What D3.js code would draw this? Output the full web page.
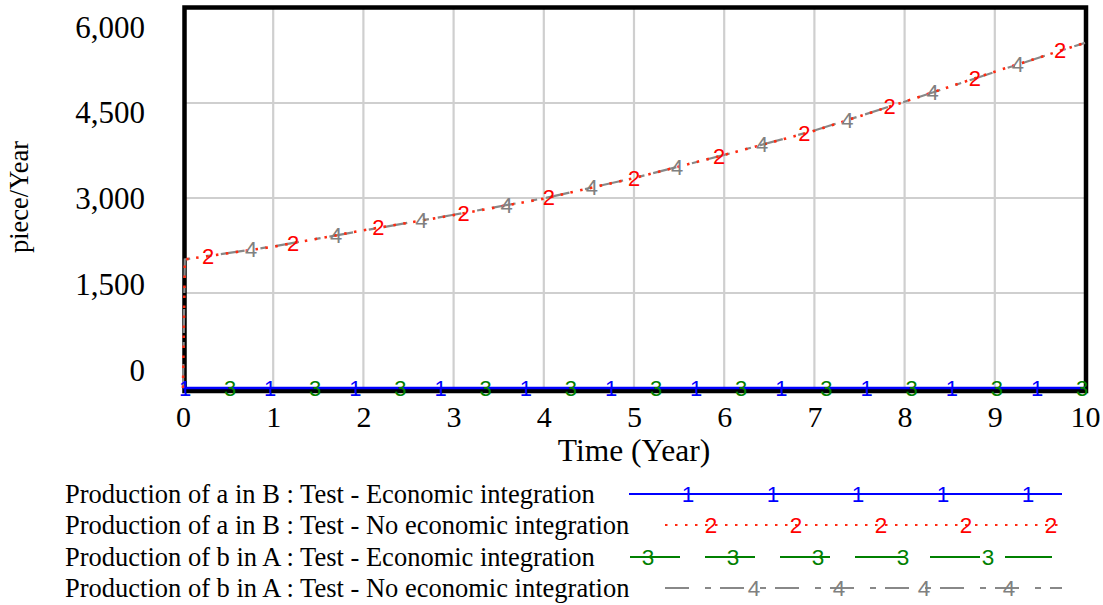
<!DOCTYPE html>
<html>
<head>
<meta charset="utf-8">
<script src="https://cdn.jsdelivr.net/npm/d3@7/dist/d3.min.js"></script>
<style>
  html, body { margin: 0; padding: 0; background: #ffffff; }
  svg { display: block; }
</style>
</head>
<body>
<svg id="chart" width="1103" height="605"></svg>
<script>
// ---- data ----
const times = [0, 0.02, 1, 2, 3, 4, 5, 6, 7, 8, 9, 10];
const aInB_integration   = [0, 0, 0, 0, 0, 0, 0, 0, 0, 0, 0, 0];
const aInB_noIntegration = [0, 2030, 2230, 2490, 2730, 2990, 3315, 3680, 4060, 4520, 4995, 5450];
const bInA_integration   = [0, 0, 0, 0, 0, 0, 0, 0, 0, 0, 0, 0];
const bInA_noIntegration = [0, 2030, 2235, 2485, 2735, 2995, 3315, 3680, 4065, 4520, 4990, 5450];
const seriesNames = [
  "Production of a in B : Test - Economic integration",
  "Production of a in B : Test - No economic integration",
  "Production of b in A : Test - Economic integration",
  "Production of b in A : Test - No economic integration"
];
const seriesMarkers = ["1", "2", "3", "4"];
const xTicks = [0, 1, 2, 3, 4, 5, 6, 7, 8, 9, 10];
const yTicks = [0, 1500, 3000, 4500, 6000];
const xTitle = "Time (Year)";
const yTitle = "piece/Year";

// ---- styles ----
const styles = [
  { color: "#0000ff", text: "#0000ff", width: 2.6, dash: null,          offset: 2 },
  { color: "#ff2a10", text: "#ff0000", width: 2.6, dash: "2.5,7.5",     offset: 25 },
  { color: "#008000", text: "#008000", width: 2.2, dash: "50,25",       offset: 47 },
  { color: "#888888", text: "#808080", width: 2.2, dash: "24,16,6,9",   offset: 68 }
];
const seriesData = [aInB_integration, aInB_noIntegration, bInA_integration, bInA_noIntegration];
const drawOrder = [2, 0, 3, 1];

const svg = d3.select("#chart");
const serif = "'Liberation Serif', 'Times New Roman', serif";
const sans = "'Liberation Sans', Arial, sans-serif";

const x = d3.scaleLinear().domain([0, 10]).range([183, 1085]);
const y = d3.scaleLinear().domain([0, 6000]).range([388, 8]);
const yLabel = d3.scaleLinear().domain([0, 6000]).range([380, 37]);

// grid
const grid = svg.append("g");
grid.selectAll("line.v").data(xTicks.filter(t => t > 0 && t < 10)).join("line")
  .attr("x1", d => x(d)).attr("x2", d => x(d)).attr("y1", 8).attr("y2", 391)
  .attr("stroke", "#cfcfcf").attr("stroke-width", 2.2);
grid.selectAll("line.h").data(yTicks.filter(t => t > 0 && t < 6000)).join("line")
  .attr("x1", 184).attr("x2", 1086).attr("y1", d => y(d)).attr("y2", d => y(d))
  .attr("stroke", "#cfcfcf").attr("stroke-width", 2.2);

// frame
svg.append("rect").attr("x", 184.5).attr("y", 7.5).attr("width", 901.5).attr("height", 383.5)
  .attr("fill", "none").attr("stroke", "#000").attr("stroke-width", 4.5);

// y labels
const yAxis = svg.append("g").attr("transform", "translate(145,0)")
  .call(d3.axisLeft(yLabel).tickValues(yTicks).tickSize(0).tickPadding(0).tickFormat(d3.format(",")));
yAxis.select(".domain").remove();
yAxis.selectAll("text").attr("font-family", serif).attr("font-size", 31).attr("fill", "#000")
  .attr("dy", 0).attr("text-anchor", "end");

// x labels
const xAxis = svg.append("g").attr("transform", "translate(0,426.5)")
  .call(d3.axisBottom(x).tickValues(xTicks).tickSize(0).tickPadding(0).tickFormat(d3.format("d")));
xAxis.select(".domain").remove();
xAxis.selectAll("text").attr("font-family", serif).attr("font-size", 30).attr("fill", "#000")
  .attr("dy", 0).attr("y", 0);

// titles
svg.append("text").attr("x", 634).attr("y", 461).attr("text-anchor", "middle")
  .attr("font-family", serif).attr("font-size", 31.5).text(xTitle);
svg.append("text").attr("transform", "translate(28,197) rotate(-90)").attr("text-anchor", "middle")
  .attr("font-family", serif).attr("font-size", 26.5).text(yTitle);

// lines
const line = d3.line().x((d, i) => x(times[i])).y(d => y(d));
const linesG = svg.append("g");
drawOrder.forEach(si => {
  const vals = seriesData[si];
  const st = styles[si];
  linesG.append("path").datum(vals).attr("d", line)
    .attr("fill", "none").attr("stroke", st.color).attr("stroke-width", st.width)
    .attr("stroke-dasharray", st.dash);
});

// markers along lines
function valueAt(vals, t) {
  const i = d3.bisectRight(times, t);
  if (i <= 0) return vals[0];
  if (i >= times.length) return vals[vals.length - 1];
  const t0 = times[i - 1], t1 = times[i];
  const f = (t - t0) / (t1 - t0);
  return vals[i - 1] + f * (vals[i] - vals[i - 1]);
}
const markerStep = 85.2;
const markG = svg.append("g");
seriesData.forEach((vals, si) => {
  const st = styles[si];
  for (let px = x(0) + st.offset; px <= x(10) + 1; px += markerStep) {
    const t = x.invert(px);
    markG.append("text").attr("x", px).attr("y", y(valueAt(vals, t)))
      .attr("text-anchor", "middle").attr("dominant-baseline", "central")
      .attr("font-family", sans).attr("font-size", 22).attr("fill", st.text)
      .text(seriesMarkers[si]);
  }
});

// legend
const legRowY = [494, 525, 557, 588];
const legLineStart = [629, 665, 630, 665];
const legLineEnd = [1062, 1062, 1052, 1062];
const legBase = 601;
const leg = svg.append("g");
seriesNames.forEach((name, si) => {
  const st = styles[si];
  const ly = legRowY[si];
  leg.append("text").attr("x", 65).attr("y", ly + 9)
    .attr("font-family", serif).attr("font-size", 26.5).attr("fill", "#000").text(name);
  leg.append("line").attr("x1", legLineStart[si]).attr("x2", legLineEnd[si])
    .attr("y1", ly).attr("y2", ly)
    .attr("stroke", st.color).attr("stroke-width", 2.2).attr("stroke-dasharray", st.dash);
  for (let px = legBase + st.offset; px <= legLineEnd[si]; px += 85) {
    if (px < legLineStart[si] + 15) continue;
    leg.append("text").attr("x", px).attr("y", ly)
      .attr("text-anchor", "middle").attr("dominant-baseline", "central")
      .attr("font-family", sans).attr("font-size", 22.5).attr("fill", st.text)
      .text(seriesMarkers[si]);
  }
});
</script>
</body>
</html>
